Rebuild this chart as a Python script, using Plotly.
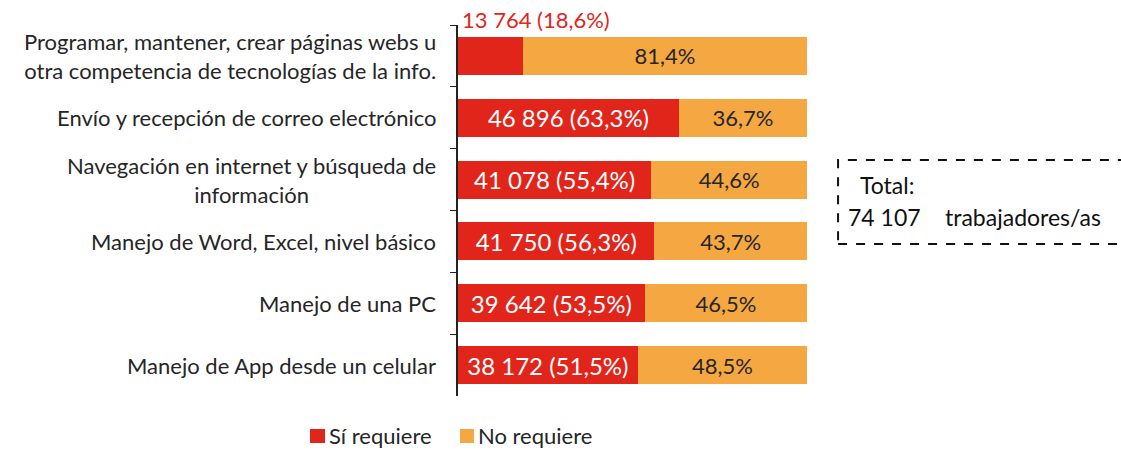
import plotly.graph_objects as go

categories = [
    "Programar, mantener, crear páginas webs u<br>otra competencia de tecnologías de la info.",
    "Envío y recepción de correo electrónico",
    "Navegación en internet y búsqueda de<br>información",
    "Manejo de Word, Excel, nivel básico",
    "Manejo de una PC",
    "Manejo de App desde un celular",
]
si_count = [13764, 46896, 41078, 41750, 39642, 38172]
si_pct = [18.6, 63.3, 55.4, 56.3, 53.5, 51.5]
no_pct = [81.4, 36.7, 44.6, 43.7, 46.5, 48.5]
total = 74107
series_names = ["Sí requiere", "No requiere"]

RED = "#E1251B"
ORANGE = "#F5A742"
DARK = "#262626"
FONT = "Lato"


def fmt_num(n):
    return f"{n:,}".replace(",", " ")


def fmt_pct(p):
    return f"{p:.1f}%".replace(".", ",")


# first bar is too narrow, its label goes above the bar
si_text = [""] + [f"{fmt_num(n)} ({fmt_pct(p)})" for n, p in zip(si_count[1:], si_pct[1:])]
no_text = [fmt_pct(p) for p in no_pct]

fig = go.Figure()
fig.add_trace(go.Bar(
    y=categories, x=si_pct, orientation="h", name=series_names[0],
    marker=dict(color=RED, line=dict(width=0)),
    text=si_text, textposition="inside", insidetextanchor="middle",
    textfont=dict(color="white", size=24, family=FONT),
    hoverinfo="skip", showlegend=False,
))
fig.add_trace(go.Bar(
    y=categories, x=no_pct, orientation="h", name=series_names[1],
    marker=dict(color=ORANGE, line=dict(width=0)),
    text=no_text, textposition="inside", insidetextanchor="middle",
    textfont=dict(color=DARK, size=22, family=FONT),
    hoverinfo="skip", showlegend=False,
))

# category labels (centered lines, right aligned block)
for cat in categories:
    fig.add_annotation(
        x=0, y=cat, xref="paper", yref="y", text=cat,
        showarrow=False, xanchor="right", yanchor="middle", align="center",
        xshift=-20, font=dict(color=DARK, size=22, family=FONT),
    )

fig.add_annotation(
    x=0, y=categories[0], xref="x", yref="y",
    text=f"{fmt_num(si_count[0])} ({fmt_pct(si_pct[0])})",
    showarrow=False, xanchor="left", yanchor="middle", yshift=36, xshift=2,
    font=dict(color=RED, size=22, family=FONT),
)

# dashed box with total
fig.add_shape(
    type="rect", xref="paper", yref="paper",
    x0=1.089, x1=1.95, y0=0.41, y1=0.636,
    line=dict(color="#111111", width=2, dash="dash"),
)
fig.add_annotation(
    x=1.145, y=0.569, xref="paper", yref="paper", text="Total:",
    showarrow=False, xanchor="left", yanchor="middle",
    font=dict(color="#111111", size=23, family=FONT),
)
fig.add_annotation(
    x=1.113, y=0.482, xref="paper", yref="paper", text=fmt_num(total),
    showarrow=False, xanchor="left", yanchor="middle",
    font=dict(color="#111111", size=23, family=FONT),
)
fig.add_annotation(
    x=1.39, y=0.482, xref="paper", yref="paper", text="trabajadores/as",
    showarrow=False, xanchor="left", yanchor="middle",
    font=dict(color="#111111", size=23, family=FONT),
)

# legend drawn by hand to keep the tight square/text spacing
legend_pos = [(-0.424, -0.381), (0.0057, 0.0458)]
for name, color, (lx0, lx1) in zip(series_names, [RED, ORANGE], legend_pos):
    fig.add_shape(
        type="rect", xref="paper", yref="paper",
        x0=lx0, x1=lx1, y0=-0.1267, y1=-0.0889,
        fillcolor=color, line=dict(width=0),
    )
    fig.add_annotation(
        x=lx1 + 0.006, y=-0.1078, xref="paper", yref="paper", text=name,
        showarrow=False, xanchor="left", yanchor="middle",
        font=dict(color=DARK, size=22, family=FONT),
    )

fig.update_layout(
    barmode="stack",
    bargap=0.385,
    width=1121, height=451,
    margin=dict(l=458, r=314, t=25, b=55),
    plot_bgcolor="white", paper_bgcolor="white",
    font=dict(family=FONT, size=22, color=DARK),
    showlegend=False,
    xaxis=dict(range=[0, 100], visible=False, fixedrange=True),
    yaxis=dict(
        autorange="reversed", showline=True, linecolor="#222222", linewidth=1.5,
        ticks="outside", tickson="boundaries", ticklen=6, tickcolor="#222222",
        showticklabels=False, showgrid=False, automargin=False,
    ),
)

# drop the default page margin so the figure starts at the window corner
fig.write_html(
    "out.html",
    config={"displayModeBar": False},
    post_script="document.body.style.margin='0px';document.body.style.overflow='hidden';",
)
